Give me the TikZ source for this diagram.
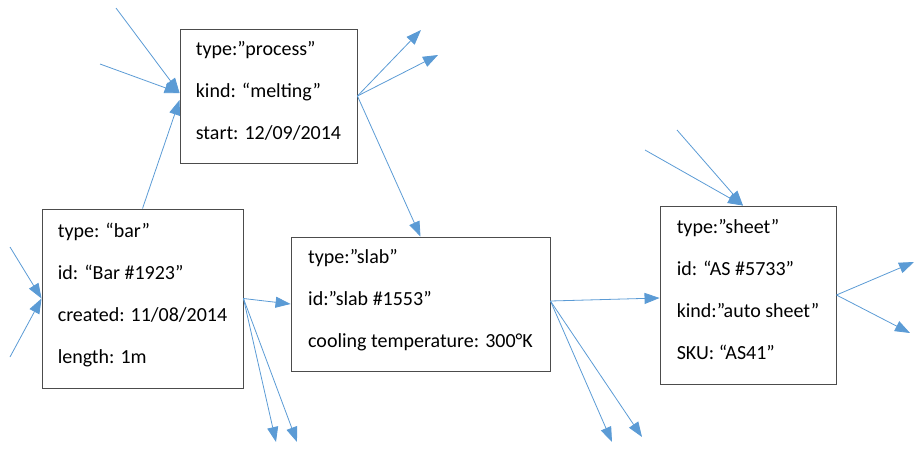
\documentclass[tikz,border=0pt]{standalone}
\usepackage{fontspec}
\setmainfont{Carlito}
\usetikzlibrary{arrows.meta, calc}
\definecolor{linkblue}{RGB}{91,155,213}

\begin{document}
\begin{tikzpicture}[x=1pt, y=-1pt]
		\tikzstyle{Record} = [rectangle, draw=black!70, line width=0.9pt, fill=white, inner xsep=15pt, align=left, font=\fontsize{20}{42}\selectfont, text depth=11pt]
		\tikzstyle{link} = [draw=linkblue, line width=0.8pt, -{Triangle[length=15pt, width=11pt]}, color=linkblue]
		
		%\draw[step=50,gray,very thin] (0,0) grid (916,448);
		\useasboundingbox (0,0) rectangle (916,448);
		
		\node (process) [Record, minimum width=177pt, minimum height=134pt] at (268.5,96) {type:”process”\\kind: “melting”\\start: 12/09/2014};
		\node (bar) [Record, minimum width=201pt, minimum height=179pt] at (142.5,298.5) {type: “bar”\\id: “Bar \#1923”\\created: 11/08/2014\\length: 1m};
		\node (slab) [Record, minimum width=259pt, minimum height=134pt] at (420.5,304) {type:”slab”\\id:”slab \#1553”\\cooling temperature: 300°K};
		\node (sheet) [Record, minimum width=176pt, minimum height=178pt] at (748,295) {type:”sheet”\\id: “AS \#5733”\\kind:”auto sheet”\\SKU: “AS41”};
		
		\coordinate (pin1) at (116,8);
		\coordinate (pin2) at (100,64);
		\coordinate (bin1) at (10,247);
		\coordinate (bin2) at (10,357);
		\coordinate (sin1) at (677,130);
		\coordinate (sin2) at (645,150);
		\coordinate (pout1) at (421,30);
		\coordinate (pout2) at (438,55);
		\coordinate (bout1) at (276,442);
		\coordinate (bout2) at (297,442);
		\coordinate (lout1) at (612,442);
		\coordinate (lout2) at (642,437);
		\coordinate (sout1) at (914,262);
		\coordinate (sout2) at (910,333);
		\coordinate (slabout) at ($(slab.east)+(0,-3)$);
		
		\draw [link] (pin1) -- ($(process.west)+(0,-3)$);
		\draw [link] (pin2) -- ($(process.west)+(0,-3)$);
		\draw [link] (bar.north) -- ($(process.west)+(0,4)$);
		\draw [link] (process.east) -- (pout1);
		\draw [link] (process.east) -- (pout2);
		\draw [link] (process.east) -- (slab.north);
		\draw [link] (bin1) -- (bar.west);
		\draw [link] (bin2) -- (bar.west);
		\draw [link] (bar.east) -- (slab.west);
		\draw [link] (bar.east) -- (bout1);
		\draw [link] (bar.east) -- (bout2);
		\draw [link] (slabout) -- ($(sheet.west)+(0,3)$);
		\draw [link] (slabout) -- (lout1);
		\draw [link] (slabout) -- (lout2);
		\draw [link] (sin1) -- ($(sheet.north)+(-5,0)$);
		\draw [link] (sin2) -- ($(sheet.north)+(-5,0)$);
		\draw [link] (sheet.east) -- (sout1);
		\draw [link] (sheet.east) -- (sout2);
		\end{tikzpicture}
\end{document}
